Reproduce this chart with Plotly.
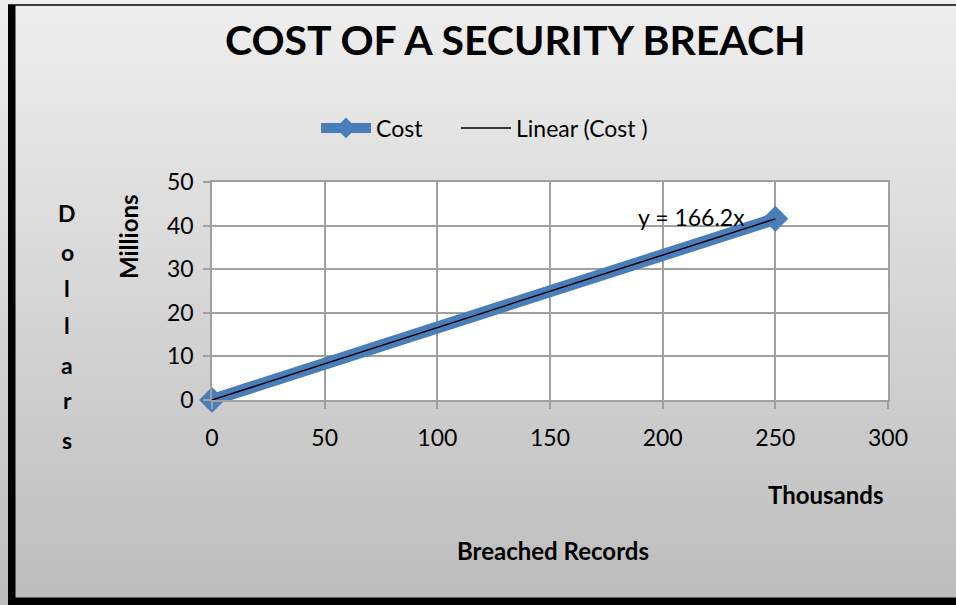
import plotly.graph_objects as go

# Data (x in thousands of records, y in millions of dollars)
records_k = [0, 250]
cost_m = [0, 41.55]
trend_slope = 166.2  # dollars per record
trend_x = [0, 250]
trend_y = [trend_slope * x * 1000 / 1e6 for x in trend_x]

x_ticks = [0, 50, 100, 150, 200, 250, 300]
y_ticks = [0, 10, 20, 30, 40, 50]

W, H = 956, 605
L, R, T, B = 212, 68, 182, 205
PW, PH = W - L - R, H - T - B

def px_x(px):
    return (px - L) / PW

def px_y(py):
    return (H - B - py) / PH

FONT = "Lato, Carlito, Calibri, sans-serif"

fig = go.Figure()
fig.add_trace(go.Scatter(
    x=records_k, y=cost_m, mode="lines+markers", name="Cost",
    line=dict(color="#4a7ebb", width=12),
    marker=dict(symbol="diamond", size=20, color="#4a7ebb"),
    cliponaxis=False, legend="legend",
))
fig.add_trace(go.Scatter(
    x=trend_x, y=trend_y, mode="lines", name="Linear (Cost )",
    line=dict(color="black", width=1.5), legend="legend2",
))

shapes = []
# vertical gradient background
n = 60
top_c = (0xee, 0xee, 0xee)
bot_c = (0xbd, 0xbd, 0xbd)
for i in range(n):
    t = i / (n - 1)
    c = tuple(int(round(top_c[k] + (bot_c[k] - top_c[k]) * t)) for k in range(3))
    y0 = i * H / n
    y1 = (i + 1) * H / n + 1
    shapes.append(dict(type="rect", xref="paper", yref="paper", layer="below",
                       x0=px_x(0), x1=px_x(W), y0=px_y(y1), y1=px_y(y0),
                       fillcolor="rgb(%d,%d,%d)" % c, line=dict(width=0)))
# white plot area
shapes.append(dict(type="rect", xref="paper", yref="paper", layer="below",
                   x0=0, x1=1, y0=0, y1=1, fillcolor="white", line=dict(width=0)))
# frame borders
shapes.append(dict(type="rect", xref="paper", yref="paper", layer="above",
                   x0=px_x(8), x1=px_x(15.5), y0=px_y(H), y1=px_y(5),
                   fillcolor="black", line=dict(width=0)))
shapes.append(dict(type="rect", xref="paper", yref="paper", layer="above",
                   x0=px_x(8), x1=px_x(W), y0=px_y(H), y1=px_y(597.5),
                   fillcolor="black", line=dict(width=0)))
shapes.append(dict(type="line", xref="paper", yref="paper", layer="above",
                   x0=px_x(8), x1=px_x(W), y0=px_y(5), y1=px_y(5),
                   line=dict(color="black", width=1.5)))

annotations = [
    dict(text="<b>COST OF A SECURITY BREACH</b>", xref="paper", yref="paper",
         x=px_x(515), y=px_y(40), xanchor="center", yanchor="middle",
         showarrow=False, font=dict(size=41, color="black", family=FONT)),
    dict(text="<b>Millions</b>", xref="paper", yref="paper",
         x=px_x(128), y=px_y(237), xanchor="center", yanchor="middle",
         textangle=-90, showarrow=False, font=dict(size=24, color="black", family=FONT)),
    dict(text="<b>Thousands</b>", xref="paper", yref="paper",
         x=px_x(825), y=px_y(494), xanchor="center", yanchor="middle",
         showarrow=False, font=dict(size=24, color="black", family=FONT)),
    dict(text="<b>Breached Records</b>", xref="paper", yref="paper",
         x=px_x(553), y=px_y(550), xanchor="center", yanchor="middle",
         showarrow=False, font=dict(size=24, color="black", family=FONT)),
    dict(text="y = 166.2x", xref="paper", yref="paper",
         x=px_x(691), y=px_y(217), xanchor="center", yanchor="middle",
         showarrow=False, font=dict(size=23, color="black", family=FONT)),
]
dollars = "Dollars"
letter_y = [213, 252, 288, 325, 365, 400, 440]
for ch, yy in zip(dollars, letter_y):
    annotations.append(dict(text="<b>%s</b>" % ch, xref="paper", yref="paper",
                            x=px_x(67), y=px_y(yy), xanchor="center", yanchor="middle",
                            showarrow=False, font=dict(size=23, color="black", family=FONT)))

axis_common = dict(
    showgrid=True, gridcolor="#a0a0a0", gridwidth=1.5,
    showline=True, linecolor="#a0a0a0", linewidth=1.5, mirror=True,
    ticks="outside", ticklen=7, tickcolor="#a0a0a0", tickwidth=1.5,
    zeroline=False, tickfont=dict(size=23, color="black", family=FONT),
)

legend_common = dict(orientation="h", yanchor="middle", xanchor="left",
                     y=px_y(128), bgcolor="rgba(0,0,0,0)", itemwidth=50,
                     font=dict(size=23, color="black", family=FONT))

fig.update_layout(
    width=W, height=H,
    margin=dict(l=L, r=R, t=T, b=B, pad=0),
    paper_bgcolor="#d6d6d6", plot_bgcolor="white",
    showlegend=True,
    legend=dict(x=px_x(316), **legend_common),
    legend2=dict(x=px_x(456), **legend_common),
    xaxis=dict(range=[0, 300], tickvals=x_ticks, ticklabelstandoff=10, **axis_common),
    yaxis=dict(range=[0, 50], tickvals=y_ticks, ticklabelstandoff=5, **axis_common),
    shapes=shapes, annotations=annotations,
    font=dict(family=FONT),
)

fig.write_html("out.html")
